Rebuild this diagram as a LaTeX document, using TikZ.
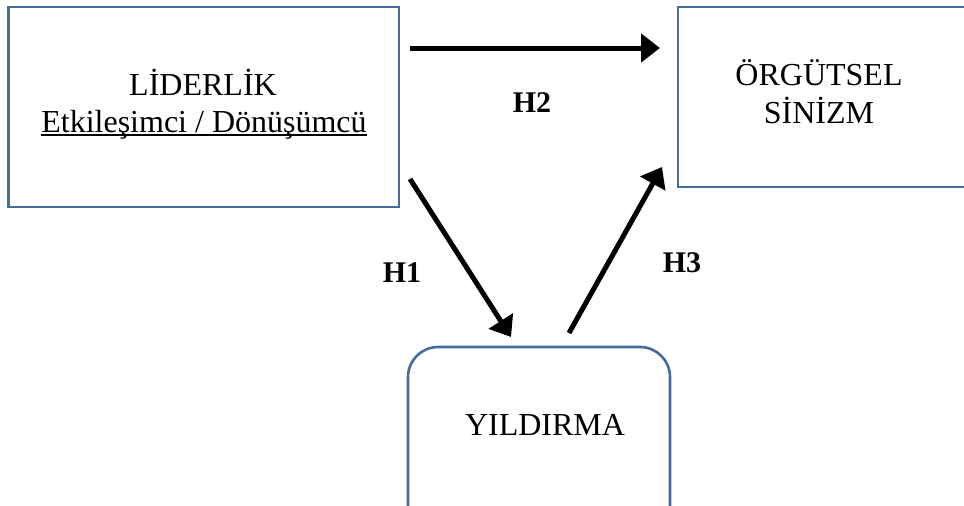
\documentclass[tikz,border=0pt]{standalone}
\usepackage{fontspec}
\setmainfont{Liberation Serif}
\usetikzlibrary{arrows.meta}
\definecolor{boxblue}{RGB}{70,108,156}
\newcommand{\myuline}[1]{{\setbox0\hbox{#1}\rlap{\rule[-3.5pt]{\wd0}{1.3pt}}\box0}}
\tikzset{
  boxframe/.style={draw=boxblue, line width=2.6pt, fill=white, inner sep=0pt},
  boxtext/.style={inner sep=0pt, anchor=base, font=\fontsize{32}{37}\selectfont},
  hlabel/.style={inner sep=0pt, font=\fontsize{30}{36}\selectfont\bfseries},
  relarrow/.style={line width=5pt, -{Triangle[length=19pt,width=28pt]}}
}
\begin{document}
\begin{tikzpicture}[x=1pt,y=-1pt]
\clip (0,0) rectangle (964,506);
\fill[white] (0,0) rectangle (964,506);
% boxes
\node[boxframe, minimum width=390.5pt, minimum height=200pt] (L) at (203.75,107) {};
\node[boxframe, minimum width=300pt, minimum height=180pt] (R) at (828,97) {};
\node[boxframe, rounded corners=30pt, minimum width=262pt, minimum height=190pt] (Y) at (539,442) {};
% texts
\node[boxtext] (Lt1) at (203,95) {LİDERLİK};
\node[boxtext] (Lt2) at (204,132) {\myuline{Etkileşimci / Dönüşümcü}};
\node[boxtext] (Rt1) at (819,85) {ÖRGÜTSEL};
\node[boxtext] (Rt2) at (819,123) {SİNİZM};
\node[boxtext] (Yt) at (545,435) {YILDIRMA};
% arrow end points
\coordinate (a2s) at (410,48);
\coordinate (a2e) at (660,48);
\coordinate (a1s) at (410,179);
\coordinate (a1e) at (511,337);
\coordinate (a3s) at (569,333);
\coordinate (a3e) at (662,167);
\draw[relarrow] (a2s) -- (a2e);
\draw[relarrow] (a1s) -- (a1e);
\draw[relarrow] (a3s) -- (a3e);
% labels
\node[hlabel] (H2) at (532,103) {H2};
\node[hlabel] (H1) at (402,273) {H1};
\node[hlabel] (H3) at (682,263) {H3};
\end{tikzpicture}
\end{document}
